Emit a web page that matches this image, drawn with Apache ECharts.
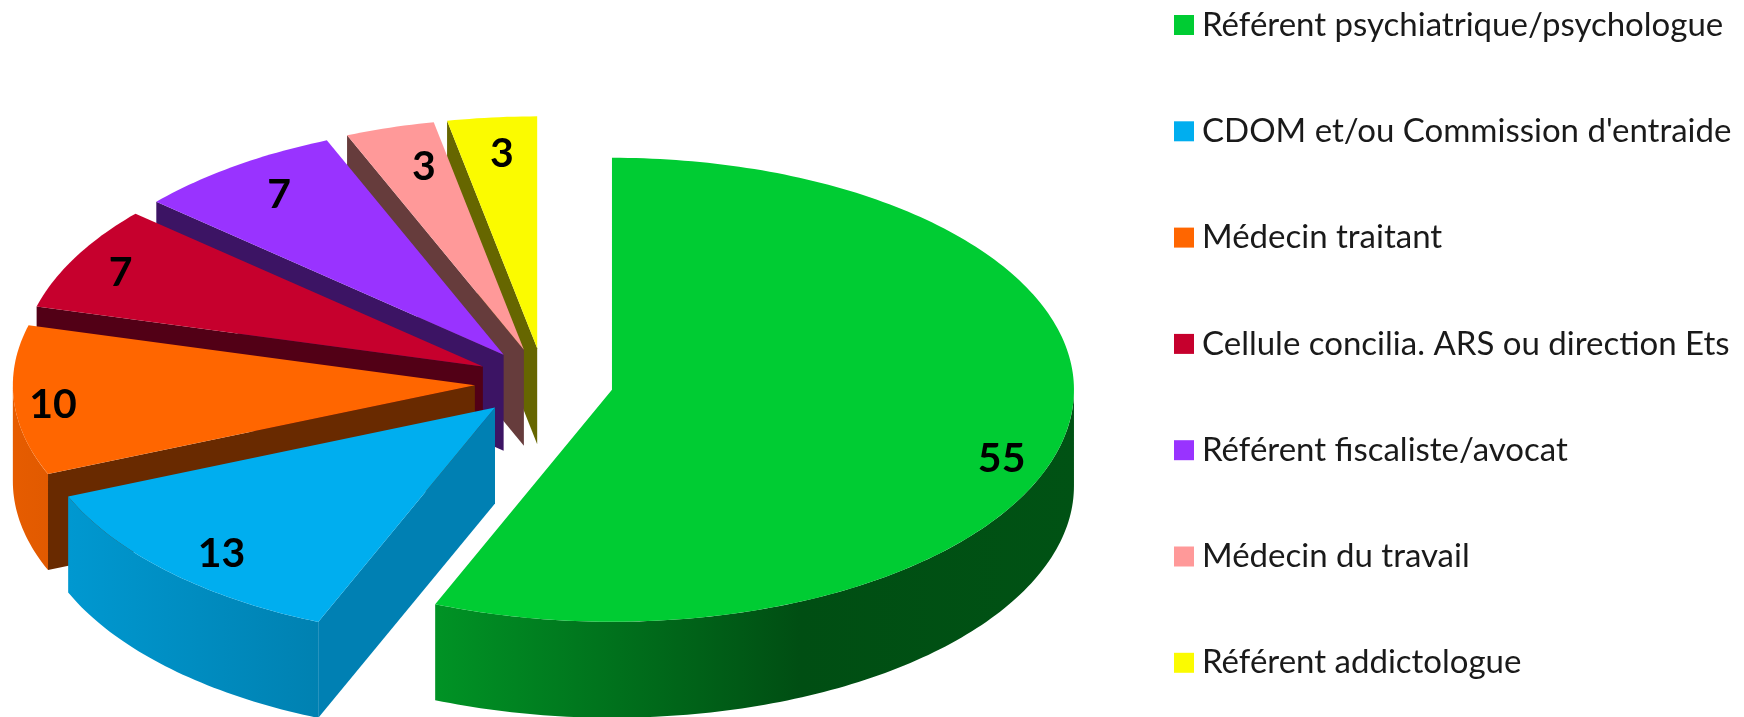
<!DOCTYPE html>
<html>
<head>
<meta charset="utf-8">
<style>html,body{margin:0;padding:0;background:#fff}#c{width:1744px;height:717px}</style>
<script src="https://cdn.jsdelivr.net/npm/echarts@6/dist/echarts.min.js"></script>
</head>
<body>
<div id="c"></div>
<script>
// Data
var categories = ["Référent psychiatrique/psychologue","CDOM et/ou Commission d'entraide","Médecin traitant","Cellule concilia. ARS ou direction Ets","Référent fiscaliste/avocat","Médecin du travail","Référent addictologue"];
// The numbers printed on the slices.
var values = [55,13,10,7,7,3,3];
// The slice sizes (its printed numbers are rounded and
// do not quite match its drawn angles).
var sliceSizes = [54,12,10,7,7,3,3];
// Styles
var topColors = ['#00CC33','#00AEEF','#FF6600','#C6002D','#9933FF','#FF9999','#FBFB00'];
var wallColors = ['#004d10','#0080B3','#692A00','#520016','#3C1464','#663C3C','#666600'];
// Layout of the tilted pie
var cx = 544, cy = 383, rx = 462, ry = 232, depth = 96, explode = 0.15;
var labelFrac = [0.86,0.837,0.915,0.889,0.834,0.745,0.78];
var labelDrop = [30,9,6,3.4,-3,-17.5,-14];
var lightStops = [[13,0.90],[320,0.74],[435,0.72],[800,0.38],[1074,0.40]];

var total = sliceSizes.reduce(function(a,b){return a+b;},0);
function shade(hex,f){
  var n=parseInt(hex.slice(1),16);
  return 'rgb('+Math.round((n>>16&255)*f)+','+Math.round((n>>8&255)*f)+','+Math.round((n&255)*f)+')';
}
function sideFill(color){
  var x0=lightStops[0][0], x1=lightStops[lightStops.length-1][0];
  return {type:'linear',x:x0,y:0,x2:x1,y2:0,global:true,
    colorStops:lightStops.map(function(s){return {offset:(s[0]-x0)/(x1-x0),color:shade(color,s[1])};})};
}
function makeRender(idx){
  return function(params,api){
    var size = api.value(0), shown = api.value(1), before = 0;
    for(var i=0;i<idx;i++) before += sliceSizes[i];
    var a0 = before/total*360, a1 = a0 + size/total*360, mid=(a0+a1)/2;
    var rad=function(d){return d*Math.PI/180;};
    var ax = cx + explode*rx*Math.sin(rad(mid));
    var ay = cy - explode*ry*Math.cos(rad(mid));
    var pt=function(d){return [ax+rx*Math.sin(rad(d)), ay-ry*Math.cos(rad(d))];};
    var down=function(p){return [p[0],p[1]+depth];};
    var arc=function(s,e){
      var out=[],n=Math.max(2,Math.ceil((e-s)));
      for(var k=0;k<=n;k++) out.push(pt(s+(e-s)*k/n));
      return out;
    };
    var kids=[];
    var wall=function(d){
      var p=pt(d);
      kids.push({type:'polygon',shape:{points:[[ax,ay],p,down(p),[ax,ay+depth]]},style:{fill:wallColors[idx]}});
    };
    if(a0>180) wall(a0);
    if(a1<180) wall(a1);
    var s=Math.max(a0,90), e=Math.min(a1,270);
    if(e>s){
      var top=arc(s,e);
      var pts=top.concat(top.slice().reverse().map(down));
      kids.push({type:'polygon',shape:{points:pts},style:{fill:sideFill(topColors[idx])}});
    }
    kids.push({type:'polygon',shape:{points:[[ax,ay]].concat(arc(a0,a1))},style:{fill:topColors[idx]}});
    kids.push({type:'text',style:{
      text:String(shown),
      x:ax+labelFrac[idx]*rx*Math.sin(rad(mid)),
      y:ay-labelFrac[idx]*ry*Math.cos(rad(mid))+labelDrop[idx],
      align:'center',verticalAlign:'middle',
      font:'bold 41px Lato',fill:'#000'
    }});
    return {type:'group',children:kids};
  };
}
var series = categories.map(function(name,i){
  return {
    type:'custom',name:name,coordinateSystem:'none',
    z:10+categories.length-i,
    data:[[sliceSizes[i],values[i]]],
    itemStyle:{color:topColors[i]},
    animation:false,silent:true,
    renderItem:makeRender(i)
  };
});
var chart = echarts.init(document.getElementById('c'),null,{renderer:'canvas'});
chart.setOption({
  backgroundColor:'#fff',
  animation:false,
  legend:{
    orient:'vertical',left:1174,top:7,padding:0,
    icon:'rect',itemWidth:20,itemHeight:20,itemGap:70.3,
    selectedMode:false,
    data:categories,
    textStyle:{fontFamily:'Lato',fontSize:33,color:'#1a1a1a',padding:[0,0,0,3],lineHeight:36}
  },
  series:series
});
</script>
</body>
</html>
